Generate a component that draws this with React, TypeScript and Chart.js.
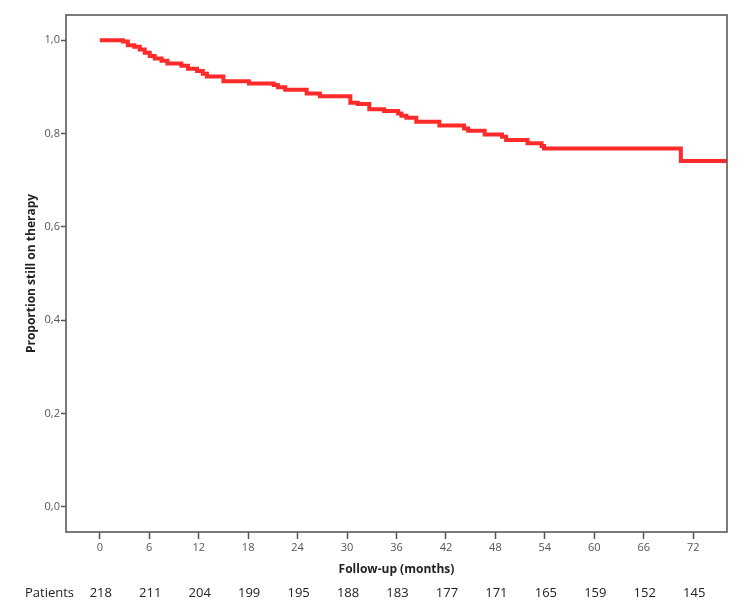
import React, { useEffect, useRef } from "react";
import { Chart, registerables } from "chart.js";

Chart.register(...registerables);

const months = [0, 2.8, 3.4, 4.2, 4.85, 5.45, 6.06, 6.67, 7.5, 8.2, 9.9, 10.7, 11.8, 12.5, 13.0, 15.0, 18.1, 21.1, 21.6, 22.5, 25.1, 26.7, 30.4, 31.3, 32.7, 34.5, 36.2, 36.6, 37.2, 38.4, 41.2, 44.2, 44.7, 46.7, 48.8, 49.3, 51.9, 53.6, 53.9, 70.5, 76.1];
const proportion = [1.0, 0.997, 0.989, 0.986, 0.98, 0.973, 0.966, 0.961, 0.956, 0.95, 0.945, 0.939, 0.934, 0.928, 0.922, 0.912, 0.907, 0.904, 0.899, 0.894, 0.886, 0.88, 0.866, 0.863, 0.852, 0.848, 0.843, 0.838, 0.834, 0.825, 0.817, 0.811, 0.806, 0.798, 0.793, 0.786, 0.779, 0.773, 0.768, 0.741, 0.741];

const xTicks = [0, 6, 12, 18, 24, 30, 36, 42, 48, 54, 60, 66, 72];
const yTicks = [0, 0.2, 0.4, 0.6, 0.8, 1.0];
const patients = [218, 211, 204, 199, 195, 188, 183, 177, 171, 165, 159, 152, 145];

const xTitle = "Follow-up (months)";
const yTitle = "Proportion still on therapy";
const patientsLabel = "Patients";

const FONT = "'Open Sans', sans-serif";

const extrasPlugin = {
  id: "extras",
  afterDraw(chart: any) {
    const { ctx, chartArea, scales } = chart;
    const xs = scales.x;
    ctx.save();
    // frame
    ctx.strokeStyle = "#5a5a5a";
    ctx.lineWidth = 1.6;
    ctx.strokeRect(chartArea.left, chartArea.top, chartArea.right - chartArea.left, chartArea.bottom - chartArea.top);
    // x title
    ctx.fillStyle = "#222";
    ctx.font = `bold 12px ${FONT}`;
    ctx.textAlign = "center";
    ctx.textBaseline = "middle";
    ctx.fillText(xTitle, (chartArea.left + chartArea.right) / 2, 570);
    // y title
    ctx.save();
    ctx.translate(32, (chartArea.top + chartArea.bottom) / 2);
    ctx.rotate(-Math.PI / 2);
    ctx.fillText(yTitle, 0, 0);
    ctx.restore();
    // patients row
    ctx.font = `13px ${FONT}`;
    ctx.fillStyle = "#222";
    ctx.textAlign = "left";
    ctx.fillText(patientsLabel, 25, 593);
    ctx.textAlign = "center";
    patients.forEach((p, i) => {
      ctx.fillText(String(p), xs.getPixelForValue(xTicks[i]) + 1, 593);
    });
    ctx.restore();
  },
};

export default function App() {
  const ref = useRef<HTMLCanvasElement>(null);
  useEffect(() => {
    if (!ref.current) return;
    Chart.defaults.font.family = FONT;
    const chart = new Chart(ref.current, {
      type: "line",
      data: {
        datasets: [
          {
            data: months.map((m, i) => ({ x: m, y: proportion[i] })),
            borderColor: "#ff2a2a",
            borderWidth: 4,
            stepped: "before",
            pointRadius: 0,
            fill: false,
          },
        ],
      },
      options: {
        responsive: false,
        animation: false,
        layout: { padding: { top: 15, right: 17, left: 0, bottom: 0 } },
        plugins: { legend: { display: false }, tooltip: { enabled: false } },
        scales: {
          x: {
            type: "linear",
            min: -4.1,
            max: 76.1,
            afterBuildTicks: (s: any) => {
              s.ticks = xTicks.map((v) => ({ value: v }));
            },
            afterFit: (s: any) => {
              s.height = 79;
            },
            grid: { drawOnChartArea: false, drawTicks: true, tickLength: 7, tickColor: "#555", tickWidth: 1.5 },
            border: { display: false },
            ticks: { color: "#555", font: { size: 11 }, padding: 2, maxRotation: 0, autoSkip: false },
          },
          y: {
            type: "linear",
            min: -0.054,
            max: 1.054,
            afterBuildTicks: (s: any) => {
              s.ticks = yTicks.map((v) => ({ value: v }));
            },
            afterFit: (s: any) => {
              s.width = 66;
            },
            grid: { drawOnChartArea: false, drawTicks: true, tickLength: 5, tickColor: "#555", tickWidth: 1.5 },
            border: { display: false },
            ticks: {
              color: "#555",
              font: { size: 11 },
              padding: 1,
              callback: (v: any) => Number(v).toFixed(1).replace(".", ","),
            },
          },
        },
      },
      plugins: [extrasPlugin],
    });
    return () => chart.destroy();
  }, []);
  return (
    <div style={{ position: "fixed", left: 0, top: 0, width: 744, height: 611, background: "#fff" }}>
      <canvas ref={ref} width={744} height={611} />
    </div>
  );
}
